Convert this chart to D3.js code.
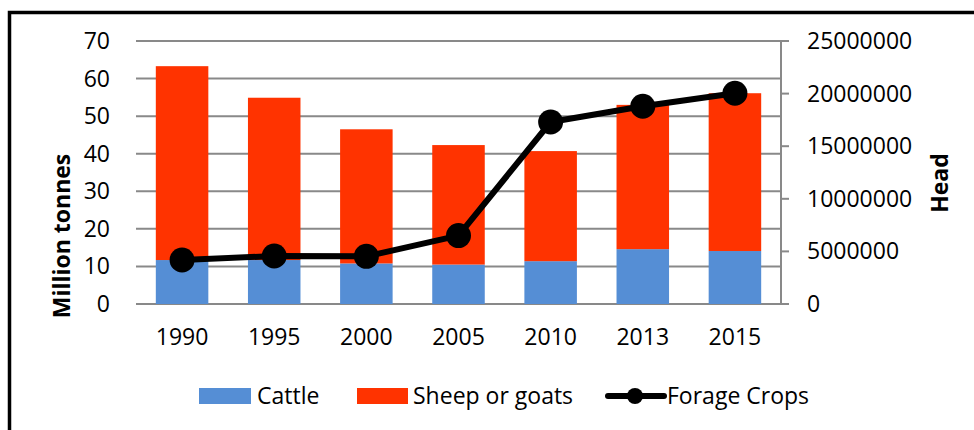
<!DOCTYPE html>
<html>
<head>
<meta charset="utf-8">
<script src="https://cdn.jsdelivr.net/npm/d3@7"></script>
<style>
  body { margin: 0; background: #fff; }
  svg { display: block; }
</style>
</head>
<body>
<div id="chart"></div>
<script>
const years = ["1990", "1995", "2000", "2005", "2010", "2013", "2015"];
const cattle = [11.7, 11.7, 10.8, 10.5, 11.4, 14.6, 14.1];
const sheepGoats = [51.6, 43.2, 35.7, 31.8, 29.3, 38.4, 42.0];
const forageCrops = [4180000, 4560000, 4530000, 6500000, 17300000, 18800000, 20030000];
const leftTicks = [0, 10, 20, 30, 40, 50, 60, 70];
const rightTicks = [0, 5000000, 10000000, 15000000, 20000000, 25000000];

const width = 974;
const height = 430;
const margin = { top: 41, right: 193, bottom: 126, left: 136 };
const font = "'Open Sans', sans-serif";
const gridColor = "#898989";

const svg = d3.select("#chart").append("svg")
    .attr("width", width)
    .attr("height", height)
    .attr("font-family", font);

// frame (only top and left edges visible in the crop)
svg.append("path")
    .attr("d", `M9.5,${height} V12.5 H${width}`)
    .attr("fill", "none")
    .attr("stroke", "#000")
    .attr("stroke-width", 3.5);

const x = d3.scaleBand()
    .domain(years)
    .range([margin.left, width - margin.right])
    .paddingInner(0.43)
    .paddingOuter(0.215);

const y = d3.scaleLinear()
    .domain([0, 70])
    .range([height - margin.bottom, margin.top]);

const y2 = d3.scaleLinear()
    .domain([0, 25000000])
    .range([height - margin.bottom, margin.top]);

// gridlines
svg.append("g")
    .selectAll("line")
    .data(leftTicks)
    .join("line")
    .attr("x1", margin.left)
    .attr("x2", width - margin.right)
    .attr("y1", d => y(d))
    .attr("y2", d => y(d))
    .attr("stroke", gridColor)
    .attr("stroke-width", 2);

// stacked bars
const rows = years.map((yr, i) => ({ year: yr, cattle: cattle[i], sheep: sheepGoats[i] }));
const stack = d3.stack().keys(["cattle", "sheep"])(rows);
const colors = { cattle: "#558ED5", sheep: "#FF3300" };

svg.append("g")
    .selectAll("g")
    .data(stack)
    .join("g")
    .attr("fill", d => colors[d.key])
    .selectAll("rect")
    .data(d => d)
    .join("rect")
    .attr("x", d => x(d.data.year))
    .attr("y", d => y(d[1]))
    .attr("width", x.bandwidth())
    .attr("height", d => y(d[0]) - y(d[1]));

// right axis line + ticks
const right = width - margin.right;
svg.append("line")
    .attr("x1", right).attr("x2", right)
    .attr("y1", y2(25000000)).attr("y2", y2(0))
    .attr("stroke", gridColor)
    .attr("stroke-width", 2);

svg.append("g")
    .selectAll("line")
    .data(rightTicks)
    .join("line")
    .attr("x1", right)
    .attr("x2", right + 8)
    .attr("y1", d => y2(d))
    .attr("y2", d => y2(d))
    .attr("stroke", gridColor)
    .attr("stroke-width", 2);

// forage crops line
const line = d3.line()
    .x((d, i) => x(years[i]) + x.bandwidth() / 2)
    .y(d => y2(d));

svg.append("path")
    .datum(forageCrops)
    .attr("d", line)
    .attr("fill", "none")
    .attr("stroke", "#000")
    .attr("stroke-width", 6)
    .attr("stroke-linejoin", "round");

svg.append("g")
    .selectAll("circle")
    .data(forageCrops)
    .join("circle")
    .attr("cx", (d, i) => x(years[i]) + x.bandwidth() / 2)
    .attr("cy", d => y2(d))
    .attr("r", 12.5)
    .attr("fill", "#000");

// tick labels
svg.append("g")
    .attr("font-size", 23)
    .attr("text-anchor", "end")
    .selectAll("text")
    .data(leftTicks)
    .join("text")
    .attr("x", 110)
    .attr("y", d => y(d))
    .attr("dy", "0.35em")
    .text(d => d);

svg.append("g")
    .attr("font-size", 23)
    .attr("text-anchor", "start")
    .selectAll("text")
    .data(rightTicks)
    .join("text")
    .attr("x", 807)
    .attr("y", d => y2(d))
    .attr("dy", "0.35em")
    .text(d => d);

svg.append("g")
    .attr("font-size", 23)
    .attr("text-anchor", "middle")
    .selectAll("text")
    .data(years)
    .join("text")
    .attr("x", d => x(d) + x.bandwidth() / 2)
    .attr("y", 337)
    .attr("dy", "0.35em")
    .text(d => d);

// axis titles
svg.append("text")
    .attr("transform", "translate(62,236) rotate(-90)")
    .attr("text-anchor", "middle")
    .attr("dy", "0.35em")
    .attr("font-size", 23)
    .attr("font-weight", "bold")
    .text("Million tonnes");

svg.append("text")
    .attr("transform", "translate(940,183) rotate(-90)")
    .attr("text-anchor", "middle")
    .attr("dy", "0.35em")
    .attr("font-size", 23)
    .attr("font-weight", "bold")
    .text("Head");

// legend
const legend = svg.append("g").attr("font-size", 23);
const ly = 396;

legend.append("rect").attr("x", 199).attr("y", ly - 8).attr("width", 52).attr("height", 16).attr("fill", colors.cattle);
legend.append("text").attr("x", 257).attr("y", ly).attr("dy", "0.35em").text("Cattle");

legend.append("rect").attr("x", 357).attr("y", ly - 8).attr("width", 51).attr("height", 16).attr("fill", colors.sheep);
legend.append("text").attr("x", 413).attr("y", ly).attr("dy", "0.35em").text("Sheep or goats");

legend.append("line").attr("x1", 608).attr("x2", 664).attr("y1", ly).attr("y2", ly)
    .attr("stroke", "#000").attr("stroke-width", 6).attr("stroke-linecap", "round");
legend.append("circle").attr("cx", 635).attr("cy", ly).attr("r", 8).attr("fill", "#000");
legend.append("text").attr("x", 667).attr("y", ly).attr("dy", "0.35em").text("Forage Crops");
</script>
</body>
</html>
